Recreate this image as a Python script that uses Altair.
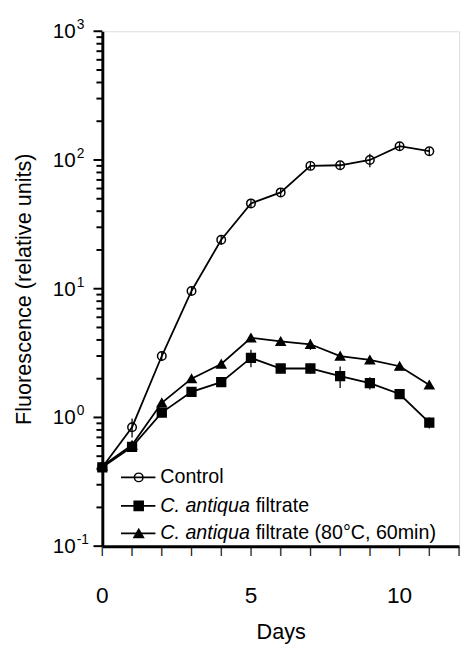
import altair as alt
import pandas as pd

# ---- data ----
days = list(range(12))
series_names = ["Control", "C. antiqua filtrate", "C. antiqua filtrate (80°C, 60min)"]
control = [0.41, 0.84, 3.0, 9.6, 24, 46, 56, 90, 91, 100, 128, 117]
control_err = [0.03, 0.14, 0.25, 0.7, 2.0, 3.5, 4.0, 6.5, 6.5, 12, 9, 8]
filtrate = [0.41, 0.59, 1.09, 1.58, 1.88, 2.9, 2.4, 2.4, 2.09, 1.85, 1.52, 0.91]
filtrate_err = [0.03, 0.04, 0.06, 0.06, 0.08, 0.45, 0.2, 0.22, 0.4, 0.2, 0.1, 0.09]
heated = [0.42, 0.61, 1.30, 2.0, 2.6, 4.15, 3.9, 3.7, 3.0, 2.8, 2.5, 1.79]
heated_err = [0.03, 0.04, 0.08, 0.08, 0.1, 0.15, 0.2, 0.35, 0.12, 0.12, 0.12, 0.08]

y_major = [0.1, 1, 10, 100, 1000]
y_exponents = ["-1", "0", "1", "2", "3"]
x_ticks = list(range(13))
x_labels = [0, 5, 10]

rows = []
for name, vals, errs in zip(series_names, [control, filtrate, heated],
                            [control_err, filtrate_err, heated_err]):
    for d, v, e in zip(days, vals, errs):
        rows.append({"day": d, "value": v, "lo": v - e, "hi": v + e, "series": name})
df = pd.DataFrame(rows)

FONT = "Liberation Sans, Arial, Helvetica, sans-serif"
W, H = 363, 524

y_minor = [m * 10 ** k for k in range(-1, 3) for m in range(2, 10)]

xscale = alt.Scale(domain=[0, 12], nice=False, zero=False)
yscale = alt.Scale(type="log", domain=[0.1, 1000], nice=False)

x_axis = alt.Axis(
    title="Days", grid=False, ticks=False, labels=False,
    titleFont=FONT, titleFontSize=22, titleFontWeight="normal", titleColor="black",
    titleY=77, titleX=W / 2, titleBaseline="top", titleAlign="center",
    domainColor="black", domainWidth=3)
y_axis = alt.Axis(
    title="Fluorescence (relative units)", grid=False, labels=False, ticks=False,
    titleFont=FONT, titleFontSize=22, titleFontWeight="normal", titleColor="black",
    titleX=-68, titleY=H / 2, titleBaseline="bottom", titleAlign="center", titleAngle=270,
    domainColor="black", domainWidth=3)

base = alt.Chart(df)

lines = base.mark_line(color="black", strokeWidth=1.8).encode(
    x=alt.X("day:Q", scale=xscale, axis=x_axis),
    y=alt.Y("value:Q", scale=yscale, axis=y_axis), detail="series:N")

errs = base.mark_rule(color="black", strokeWidth=1.3).encode(
    x="day:Q", y="lo:Q", y2="hi:Q")

shape_scale = alt.Scale(domain=series_names, range=["circle", "square", "triangle-up"])
fill_scale = alt.Scale(domain=series_names, range=["transparent", "black", "black"])
size_scale = alt.Scale(domain=series_names, range=[75, 85, 95])

points = base.mark_point(filled=True, stroke="black", strokeWidth=1.5, opacity=1).encode(
    x="day:Q", y="value:Q",
    shape=alt.Shape("series:N", scale=shape_scale, legend=None),
    fill=alt.Fill("series:N", scale=fill_scale, legend=None),
    size=alt.Size("series:N", scale=size_scale, legend=None))

# x axis ticks: small bar glyphs placed through the x scale
xt_df = pd.DataFrame({"day": x_ticks, "bar": ["|"] * len(x_ticks)})
x_tick_marks = alt.Chart(xt_df).mark_text(
    font=FONT, fontSize=9, fontWeight="bold", align="center", baseline="top",
    color="black", dy=0).encode(
    x="day:Q", y=alt.value(H + 1), text="bar:N")
xl_df = pd.DataFrame({"day": x_labels, "lab": [str(v) for v in x_labels]})
x_tick_labels = alt.Chart(xl_df).mark_text(
    font=FONT, fontSize=23, align="center", baseline="middle", color="black").encode(
    x="day:Q", y=alt.value(H + 51), text="lab:N")

ymaj_df = pd.DataFrame({"value": y_major, "exp": y_exponents, "base": ["10"] * 5})
ymin_df = pd.DataFrame({"value": y_minor})
y_minor_marks = alt.Chart(ymin_df).mark_tick(
    color="black", orient="horizontal", size=6, thickness=2, opacity=1, xOffset=-3).encode(
    y="value:Q", x=alt.datum(0))
y_major_marks = alt.Chart(ymaj_df).mark_tick(
    color="black", orient="horizontal", size=9, thickness=2, opacity=1, xOffset=-4.5).encode(
    y="value:Q", x=alt.datum(0))
ylab_base = alt.Chart(ymaj_df).mark_text(
    font=FONT, fontSize=21, align="right", baseline="middle", color="black", dy=1
).encode(x=alt.value(-27), y="value:Q", text="base:N")
ylab_exp = alt.Chart(ymaj_df).mark_text(
    font=FONT, fontSize=14, align="left", baseline="middle", color="black", dy=-6
).encode(x=alt.value(-26), y="value:Q", text="exp:N")

# manual legend
legend_layers = []
row_y = [454, 483, 511]
shapes = ["circle", "square", "triangle-up"]
fills = ["transparent", "black", "black"]
sizes = [75, 85, 95]
for i, name in enumerate(series_names):
    one = pd.DataFrame({"label": [name]})
    yp = row_y[i]
    legend_layers.append(alt.Chart(one).mark_rule(color="black", strokeWidth=1.8).encode(
        x=alt.value(19), x2=alt.value(54), y=alt.value(yp)))
    legend_layers.append(alt.Chart(one).mark_point(
        filled=True, stroke="black", strokeWidth=1.5, opacity=1,
        shape=shapes[i], fill=fills[i], size=sizes[i]).encode(
        x=alt.value(37), y=alt.value(yp)))
    if i == 0:
        legend_layers.append(alt.Chart(one).mark_text(
            font=FONT, fontSize=20, align="left", baseline="middle", color="black").encode(
            x=alt.value(59), y=alt.value(yp), text="label:N"))
    else:
        italic_part = name[:10]
        rest = name[10:]
        parts = pd.DataFrame({"it": [italic_part], "rest": [rest]})
        legend_layers.append(alt.Chart(parts).mark_text(
            font=FONT, fontSize=20, fontStyle="italic", align="left", baseline="middle",
            color="black").encode(x=alt.value(59), y=alt.value(yp), text="it:N"))
        legend_layers.append(alt.Chart(parts).mark_text(
            font=FONT, fontSize=20, align="left", baseline="middle", color="black").encode(
            x=alt.value(59 + 97), y=alt.value(yp), text="rest:N"))

chart = alt.layer(lines, errs, points, x_tick_marks, x_tick_labels, y_minor_marks,
                  y_major_marks, ylab_base, ylab_exp, *legend_layers).properties(
    width=W, height=H,
    autosize=alt.AutoSizeParams(type="none"),
    padding={"left": 96, "top": 18, "right": 2, "bottom": 100},
).configure_view(strokeWidth=0).configure(background="white")

chart.save("out.html", embed_options={"renderer": "svg", "actions": False})
